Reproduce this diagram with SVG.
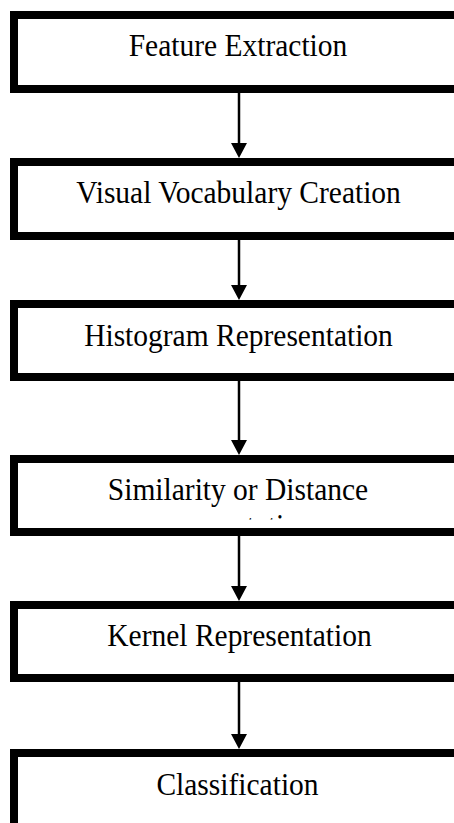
<svg xmlns="http://www.w3.org/2000/svg" width="454" height="823" viewBox="0 0 454 823">
  <style>
    .box { fill: #ffffff; stroke: #000000; stroke-width: 8; }
    .lbl { font-family: "Liberation Serif", "Times New Roman", serif; font-size: 29.5px; fill: #000000; text-anchor: middle; }
    .conn { stroke: #000000; stroke-width: 2.5; fill: none; marker-end: url(#arrow); }
  </style>
  <defs>
    <marker id="arrow" viewBox="0 0 15 16" refX="7" refY="8" markerWidth="15" markerHeight="16" markerUnits="userSpaceOnUse" orient="auto">
      <path d="M0,0 L15,8 L0,16 Z" fill="#000000"/>
    </marker>
    <clipPath id="clip4">
      <rect x="18" y="505" width="440" height="14.5"/>
    </clipPath>
  </defs>
  <rect x="0" y="0" width="454" height="823" fill="#ffffff"/>

  <g id="connectors">
    <line class="conn" x1="239" y1="93" x2="239" y2="150"/>
    <line class="conn" x1="239" y1="240" x2="239" y2="292"/>
    <line class="conn" x1="239" y1="381" x2="239" y2="447"/>
    <line class="conn" x1="239" y1="536" x2="239" y2="593"/>
    <line class="conn" x1="239" y1="682" x2="239" y2="741"/>
  </g>

  <g id="feature-extraction">
    <rect class="box" x="14" y="15" width="450" height="74"/>
    <text class="lbl" transform="translate(238,56) scale(1,1.07)">Feature Extraction</text>
  </g>

  <g id="visual-vocabulary-creation">
    <rect class="box" x="14" y="162" width="450" height="74"/>
    <text class="lbl" transform="translate(238.5,203) scale(1,1.07)">Visual Vocabulary Creation</text>
  </g>

  <g id="histogram-representation">
    <rect class="box" x="14" y="304" width="450" height="73"/>
    <text class="lbl" transform="translate(238.5,346) scale(1,1.07)">Histogram Representation</text>
  </g>

  <g id="similarity-or-distance">
    <rect class="box" x="14" y="459" width="450" height="73"/>
    <text class="lbl" transform="translate(238,500) scale(1,1.07)">Similarity or Distance</text>
    <g clip-path="url(#clip4)">
      <text class="lbl" transform="translate(240,536) scale(1,1.07)">computation</text>
    </g>
  </g>

  <g id="kernel-representation">
    <rect class="box" x="14" y="605" width="450" height="73"/>
    <text class="lbl" transform="translate(239.5,646) scale(1,1.07)">Kernel Representation</text>
  </g>

  <g id="classification">
    <rect class="box" x="14" y="753" width="450" height="100"/>
    <text class="lbl" transform="translate(237.5,795) scale(1,1.07)">Classification</text>
  </g>
</svg>
